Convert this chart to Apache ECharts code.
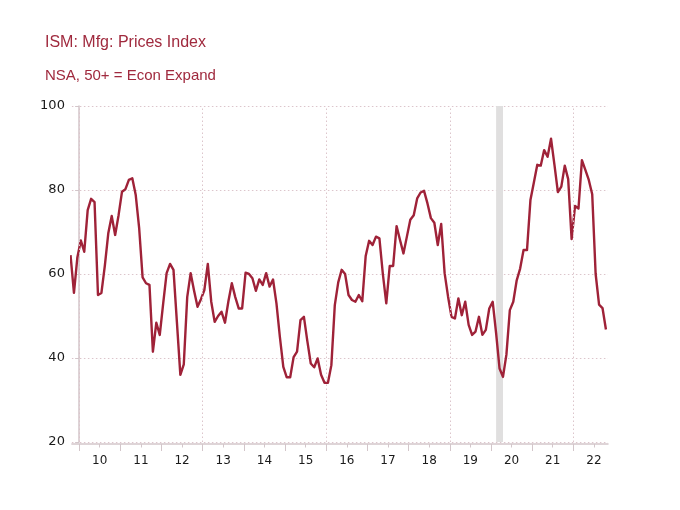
<!DOCTYPE html>
<html>
<head>
<meta charset="utf-8">
<script src="https://cdn.jsdelivr.net/npm/echarts@6/dist/echarts.min.js"></script>
<style>
html,body{margin:0;padding:0;background:#fff;}
#chart{width:680px;height:510px;}
</style>
</head>
<body>
<div id="chart"></div>
<script>
// ---- data ----
const titleText = 'ISM: Mfg: Prices Index';
const subtitleText = 'NSA, 50+ = Econ Expand';
const startYear = 2009, startMonth = 10; // first observation: Oct 2009
const values2009 = [64.5, 55.5, 64];
const values2010 = [68, 65.3, 75.2, 77.9, 77.1, 55, 55.5, 62, 69.7, 73.8, 69.3, 74];
const values2011 = [79.6, 80.2, 82.4, 82.8, 78.8, 70.9, 59.2, 57.8, 57.4, 41.5, 48.4, 45.5];
const values2012 = [53, 60.2, 62.4, 61, 48.5, 36, 38.5, 54.5, 60.2, 56, 52.2, 54];
const values2013 = [56.2, 62.4, 53.4, 48.6, 50, 51, 48.4, 53.5, 57.8, 54.5, 51.8, 51.8];
const values2014 = [60.3, 60, 59, 56, 58.7, 57.4, 60.2, 57, 58.7, 53, 45, 37.9];
const values2015 = [35.4, 35.4, 40.2, 41.5, 49, 49.8, 44, 38.7, 37.8, 39.9, 36, 34.1];
const values2016 = [34.1, 38.3, 52.6, 58, 61, 60, 55, 53.8, 53.4, 55, 53.5, 64.3];
const values2017 = [67.9, 66.9, 68.9, 68.5, 60, 53, 61.9, 61.9, 71.4, 68.1, 64.9, 68.9];
const values2018 = [72.9, 74, 78, 79.4, 79.8, 76.8, 73.3, 72.2, 66.9, 71.9, 60.2, 54.6];
const values2019 = [49.8, 49.4, 54.2, 50.2, 53.4, 47.9, 45.5, 46.3, 49.8, 45.5, 46.7, 51.8];
const values2020 = [53.4, 45.9, 37.5, 35.5, 40.8, 51.4, 53.4, 58.5, 61.3, 65.7, 65.7, 77.6];
const values2021 = [81.8, 86, 85.8, 89.5, 87.9, 92.2, 86, 79.5, 80.8, 85.8, 82.6, 68.3];
const values2022 = [76.2, 75.6, 87.1, 84.8, 82.4, 79, 60, 52.7, 51.9, 46.8];
const yearLabels = ['10','11','12','13','14','15','16','17','18','19','20','21','22'];
const firstLabelYear = 2010;
const yTicks = [20, 40, 60, 80, 100];
const gridYears = [2010, 2013, 2016, 2019, 2022];
const recessions = [[[2020, 2], [2020, 4]]];

// ---- build ----
const pricesIndex = [].concat(values2009, values2010, values2011, values2012, values2013,
  values2014, values2015, values2016, values2017, values2018, values2019, values2020,
  values2021, values2022);
// x position in months: 0 = start of Jan 2010, month centred at +0.5
function monthPos(y, m) { return (y - firstLabelYear) * 12 + (m - 1) + 0.5; }
function yearStart(y) { return (y - firstLabelYear) * 12; }
const seriesData = pricesIndex.map((v, i) => {
  const t = startYear * 12 + (startMonth - 1) + i;
  const y = Math.floor(t / 12), m = t % 12 + 1;
  return [monthPos(y, m), v];
});
const lastYear = firstLabelYear + yearLabels.length - 1;
const yearTicks = [];
for (let y = firstLabelYear; y <= lastYear; y++) yearTicks.push(yearStart(y));
const midTicks = yearLabels.map((_, i) => i * 12 + 6);

const axisColor = '#d3c6ca';
const gridColor = '#dcc5cb';
const lineColor = '#9f2238';
const titleColor = '#a02a3e';
const labelFont = 'DejaVu Sans';

const chart = echarts.init(document.getElementById('chart'), null, {renderer: 'canvas'});
chart.setOption({
  animation: false,
  backgroundColor: '#ffffff',
  title: [
    {text: titleText, left: 45, top: 34, padding: 0,
     textStyle: {fontFamily: 'Liberation Sans', fontSize: 16, fontWeight: 'normal', color: titleColor, lineHeight: 18}},
    {text: subtitleText, left: 45, top: 67, padding: 0,
     textStyle: {fontFamily: 'Liberation Sans', fontSize: 15, fontWeight: 'normal', color: titleColor, lineHeight: 18}}
  ],
  grid: {left: 71.9, right: 72, top: 106, bottom: 68, containLabel: false},
  xAxis: [
    {
      type: 'value', min: -2.1, max: 154.1, offset: 2,
      axisLine: {show: true, lineStyle: {color: axisColor, width: 1.5}},
      axisTick: {show: true, customValues: yearTicks, length: 7, lineStyle: {color: axisColor, width: 1}},
      axisLabel: {show: true, customValues: midTicks, margin: 11,
        formatter: v => yearLabels[Math.round((v - 6) / 12)],
        fontFamily: labelFont, fontSize: 12, color: '#1a1a1a'},
      splitLine: {show: false}
    },
    {
      type: 'value', min: -2.1, max: 154.1, position: 'bottom', offset: 2,
      axisLine: {show: false},
      axisTick: {show: true, customValues: midTicks, length: 3.5, lineStyle: {color: axisColor, width: 1}},
      axisLabel: {show: false},
      splitLine: {show: false}
    }
  ],
  yAxis: {
    type: 'value', min: yTicks[0], max: yTicks[yTicks.length - 1], interval: 20,
    axisLine: {show: true, lineStyle: {color: axisColor, width: 1.5}},
    axisTick: {show: true, length: 4, lineStyle: {color: axisColor}},
    axisLabel: {fontFamily: labelFont, fontSize: 13, color: '#1a1a1a', margin: 7},
    splitLine: {show: true, lineStyle: {color: gridColor, type: [1.5, 2.5], width: 1}}
  },
  series: [
    {
      type: 'line', z: 1, data: [], silent: true,
      markArea: {
        silent: true,
        itemStyle: {color: '#e0dfdf'},
        data: recessions.map(r => [{xAxis: monthPos(r[0][0], r[0][1])}, {xAxis: monthPos(r[1][0], r[1][1])}])
      },
      markLine: {
        silent: true, symbol: 'none', label: {show: false},
        lineStyle: {color: gridColor, type: [1.5, 2.5], width: 1},
        data: gridYears.map(y => ({xAxis: yearStart(y)}))
      }
    },
    {
      type: 'line', z: 3, data: seriesData, showSymbol: false, symbol: 'none',
      clip: true,
      lineStyle: {color: lineColor, width: 2.4, join: 'round'},
      itemStyle: {color: lineColor}
    }
  ]
});
</script>
</body>
</html>
